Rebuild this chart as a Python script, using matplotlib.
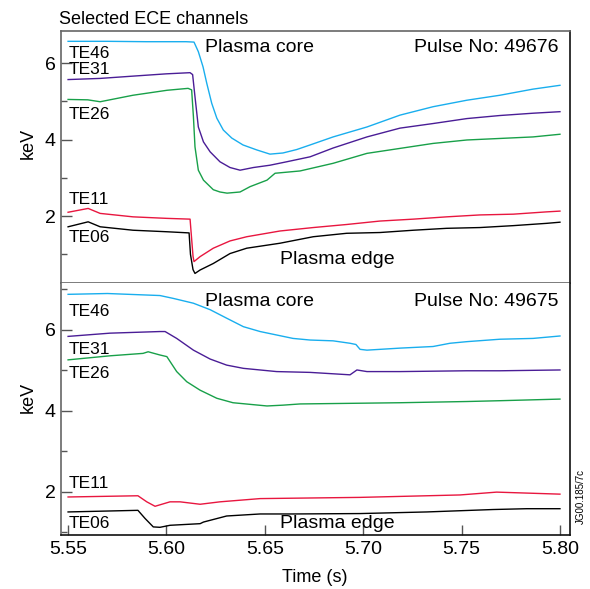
import matplotlib
matplotlib.use("Agg")
import matplotlib.pyplot as plt
from matplotlib.ticker import MultipleLocator

plt.rcParams['font.family'] = ['Liberation Sans', 'DejaVu Sans']

# ---------------- Pulse 49676 (top panel) ----------------
t46_a = [5.5500, 5.5700, 5.5900, 5.6100, 5.6140, 5.6162, 5.6186, 5.6205, 5.6230, 5.6256, 5.6289, 5.6332,
         5.6389, 5.6459, 5.6526, 5.6592, 5.6662, 5.6730, 5.6847, 5.7019, 5.7187, 5.7355, 5.7527, 5.7695,
         5.7863, 5.8000]
v46_a = [6.57, 6.57, 6.56, 6.56, 6.55, 6.30, 5.90, 5.47, 4.95, 4.56, 4.25, 4.04,
         3.86, 3.73, 3.62, 3.65, 3.74, 3.86, 4.07, 4.33, 4.64, 4.86, 5.03, 5.16,
         5.32, 5.42]

t31_a = [5.5500, 5.5663, 5.5830, 5.6000, 5.6120, 5.6133, 5.6145, 5.6162, 5.6188, 5.6222, 5.6272, 5.6323,
         5.6374, 5.6442, 5.6526, 5.6611, 5.6730, 5.6847, 5.7019, 5.7187, 5.7355, 5.7527, 5.7695, 5.7863,
         5.8000]
v31_a = [5.57, 5.60, 5.66, 5.72, 5.75, 5.70, 5.12, 4.33, 3.94, 3.68, 3.42, 3.27,
         3.20, 3.27, 3.33, 3.42, 3.55, 3.78, 4.07, 4.30, 4.42, 4.55, 4.63, 4.69,
         4.73]

t26_a = [5.5500, 5.5600, 5.5663, 5.5830, 5.6003, 5.6110, 5.6128, 5.6137, 5.6145, 5.6162, 5.6188, 5.6238,
         5.6272, 5.6308, 5.6374, 5.6425, 5.6511, 5.6552, 5.6679, 5.6847, 5.7019, 5.7187, 5.7355, 5.7527,
         5.7695, 5.7863, 5.8000]
v26_a = [5.05, 5.04, 4.99, 5.16, 5.29, 5.34, 5.30, 4.60, 3.81, 3.20, 2.94, 2.69,
         2.63, 2.60, 2.63, 2.77, 2.94, 3.12, 3.18, 3.38, 3.64, 3.77, 3.90, 3.99,
         4.03, 4.07, 4.14]

t11_a = [5.5500, 5.5602, 5.5663, 5.5830, 5.6003, 5.6120, 5.6128, 5.6135, 5.6140, 5.6171, 5.6238, 5.6323,
         5.6408, 5.6577, 5.6746, 5.6916, 5.7085, 5.7255, 5.7424, 5.7593, 5.7763, 5.7932, 5.8000]
v11_a = [2.10, 2.20, 2.07, 1.98, 1.94, 1.92, 1.40, 0.95, 0.81, 0.94, 1.16, 1.35,
         1.46, 1.61, 1.70, 1.78, 1.87, 1.92, 1.98, 2.03, 2.05, 2.11, 2.13]

t06_a = [5.5500, 5.5602, 5.5663, 5.5830, 5.6003, 5.6115, 5.6122, 5.6135, 5.6145, 5.6171, 5.6238, 5.6323,
         5.6408, 5.6577, 5.6746, 5.6916, 5.7085, 5.7255, 5.7424, 5.7593, 5.7763, 5.7932, 5.8000]
v06_a = [1.72, 1.85, 1.72, 1.63, 1.59, 1.56, 1.00, 0.60, 0.50, 0.59, 0.76, 1.02,
         1.16, 1.29, 1.46, 1.55, 1.57, 1.63, 1.68, 1.70, 1.75, 1.81, 1.84]

# ---------------- Pulse 49675 (bottom panel) ----------------
t46_b = [5.5500, 5.5700, 5.5967, 5.6034, 5.6137, 5.6222, 5.6306, 5.6391, 5.6476, 5.6643, 5.6730, 5.6847,
         5.6933, 5.6963, 5.6984, 5.7019, 5.7187, 5.7355, 5.7441, 5.7527, 5.7695, 5.7863, 5.8000]
v46_b = [6.88, 6.90, 6.85, 6.78, 6.66, 6.50, 6.29, 6.08, 5.96, 5.79, 5.75, 5.73,
         5.67, 5.64, 5.52, 5.50, 5.55, 5.59, 5.67, 5.71, 5.77, 5.79, 5.85]

t31_b = [5.5500, 5.5713, 5.5967, 5.5993, 5.6052, 5.6137, 5.6222, 5.6306, 5.6391, 5.6560, 5.6730, 5.6933,
         5.6968, 5.7019, 5.7187, 5.7527, 5.7695, 5.8000]
v31_b = [5.84, 5.92, 5.96, 5.96, 5.79, 5.50, 5.28, 5.13, 5.05, 4.97, 4.95, 4.89,
         5.01, 4.97, 4.97, 4.99, 4.99, 5.01]

t26_b = [5.5500, 5.5713, 5.5881, 5.5907, 5.5967, 5.6002, 5.6052, 5.6103, 5.6171, 5.6256, 5.6338, 5.6511,
         5.6592, 5.6679, 5.7019, 5.7187, 5.7527, 5.7695, 5.8000]
v26_b = [5.26, 5.36, 5.42, 5.46, 5.38, 5.34, 4.97, 4.72, 4.51, 4.31, 4.20, 4.12,
         4.14, 4.17, 4.19, 4.20, 4.23, 4.25, 4.29]

t11_b = [5.5500, 5.5855, 5.5900, 5.5942, 5.6018, 5.6069, 5.6171, 5.6272, 5.6476, 5.6984, 5.7492, 5.7678,
         5.8000]
v11_b = [1.87, 1.90, 1.75, 1.64, 1.75, 1.75, 1.69, 1.75, 1.83, 1.86, 1.92, 1.99,
         1.94]

t06_b = [5.5500, 5.5855, 5.5891, 5.5933, 5.5967, 5.6018, 5.6171, 5.6188, 5.6306, 5.6476, 5.6643, 5.6984,
         5.7323, 5.7661, 5.7831, 5.8000]
v06_b = [1.50, 1.54, 1.34, 1.13, 1.12, 1.17, 1.21, 1.25, 1.40, 1.45, 1.45, 1.46,
         1.50, 1.56, 1.58, 1.58]

channels = ["TE46", "TE31", "TE26", "TE11", "TE06"]
colors = ["#19aeee", "#4a1d96", "#18a049", "#e8163f", "#000000"]
x_ticks = [5.55, 5.60, 5.65, 5.70, 5.75, 5.80]
x_labels = ["5.55", "5.60", "5.65", "5.70", "5.75", "5.80"]
y_ticks = [2, 4, 6]

W, H = 590, 589
fig = plt.figure(figsize=(W / 100, H / 100), dpi=100)


def fx(px):
    return px / W


def fy(py):
    return 1 - py / H


ax1 = fig.add_axes([fx(61), fy(283), fx(570) - fx(61), fy(31) - fy(283)])
ax2 = fig.add_axes([fx(61), fy(535), fx(570) - fx(61), fy(283) - fy(535)])

data_a = [(t46_a, v46_a), (t31_a, v31_a), (t26_a, v26_a), (t11_a, v11_a), (t06_a, v06_a)]
data_b = [(t46_b, v46_b), (t31_b, v31_b), (t26_b, v26_b), (t11_b, v11_b), (t06_b, v06_b)]

for ax, data in ((ax1, data_a), (ax2, data_b)):
    for (t, v), c in zip(data, colors):
        ax.plot(t, v, color=c, lw=1.0)
    ax.set_xlim(5.5464, 5.8051)
    ax.set_yticks(y_ticks)
    ax.yaxis.set_minor_locator(MultipleLocator(1))
    ax.tick_params(axis='y', which='major', direction='in', length=8, width=1,
                   color='#555555', labelsize=14, pad=4)
    ax.tick_params(axis='y', which='minor', direction='in', length=4.5, width=1, color='#555555')
    for s in ('left', 'top', 'bottom'):
        ax.spines[s].set_color('#666666')
        ax.spines[s].set_linewidth(1.2)
    ax.spines['right'].set_color('#111111')
    ax.spines['right'].set_linewidth(1.2)

ax1.set_ylim(0.25, 6.84)
ax2.set_ylim(0.93, 7.16)
ax1.set_xticks([])
ax2.spines['top'].set_visible(False)
ax2.spines['bottom'].set_color('#111111')
ax2.set_xticks(x_ticks)
ax2.set_xticklabels(x_labels)
ax2.tick_params(axis='x', direction='in', length=7.5, width=1, color='#555555',
                labelsize=14, pad=4)

fig.text(fx(28), fy(143), "keV", rotation=90, ha='center', va='center', fontsize=13)
fig.text(fx(28), fy(397), "keV", rotation=90, ha='center', va='center', fontsize=13)
fig.text(fx(315), fy(578), "Time (s)", ha='center', va='center', fontsize=13)
fig.text(fx(59), fy(19), "Selected ECE channels", ha='left', va='center', fontsize=13)

# in-panel labels (pixel positions of the text centres)
lab_a = [53, 70, 114, 199, 238]
lab_b = [311, 349, 374, 484, 523]
for name, ya, yb in zip(channels, lab_a, lab_b):
    fig.text(fx(69), fy(ya), name, ha='left', va='center', fontsize=12.5)
    fig.text(fx(69), fy(yb), name, ha='left', va='center', fontsize=12.5)

fig.text(fx(205), fy(48), "Plasma core", ha='left', va='center', fontsize=14)
fig.text(fx(559), fy(47), "Pulse No: 49676", ha='right', va='center', fontsize=14)
fig.text(fx(280), fy(260), "Plasma edge", ha='left', va='center', fontsize=14)
fig.text(fx(205), fy(302), "Plasma core", ha='left', va='center', fontsize=14)
fig.text(fx(559), fy(302), "Pulse No: 49675", ha='right', va='center', fontsize=14)
fig.text(fx(280), fy(524), "Plasma edge", ha='left', va='center', fontsize=14)

fig.text(fx(581), fy(524), "JG00.185/7c", rotation=90, ha='center', va='bottom', fontsize=7)

fig.savefig("out.png", dpi=100)
